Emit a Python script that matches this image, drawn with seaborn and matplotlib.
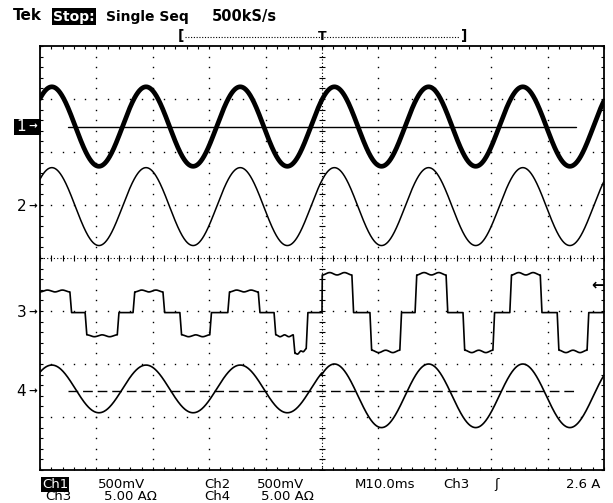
import numpy as np
import pandas as pd
import matplotlib
matplotlib.use('Agg')
import matplotlib.pyplot as plt
import seaborn as sns
from matplotlib import transforms
from matplotlib.lines import Line2D

channels = ['1', '2', '3', '4']
ground_div = [2.48, 0.97, -1.03, -2.51]       # channel ground markers (divisions)
period_ms = 16.7                              # 60 Hz
peak_ms = 2.1                                 # first crest of the sine channels
trigger_ms = 50.0
ch1_amp = [0.75, 0.75]                        # before / after trigger (div)
ch2_amp = [0.735, 0.735]
ch4_amp = [0.45, 0.60]
ch4_center_shift = [0.04, -0.09]

ch3_starts_ms = [0.0, 5.3, 8.0, 13.7, 16.5, 21.8, 24.8, 30.1, 33.3, 38.7, 41.5,
                 44.9, 47.2, 50.0, 55.3, 58.5, 63.8, 66.5, 72.0, 75.0, 80.3,
                 83.3, 88.7, 91.7, 97.0]
ch3_levels_div = [0.39, 0, -0.42, 0, 0.39, 0, -0.42, 0, 0.39, 0, -0.42,
                  -0.77, 0, 0.71, 0, -0.71, 0, 0.71, 0, -0.71, 0,
                  0.71, 0, -0.71, 0]
ch3_end_adjust = [0, 0, 0, 0, 0, 0, 0, 0, 0, 0, 0,
                  0.09, 0, 0, 0, 0, 0, 0, 0, 0, 0,
                  0, 0, 0, 0]
ch3_ripple_div = [0.035, 0.045]
trig_level_div = -0.51
ref_line_ms = [5.0, 95.0]

top_texts = ['Tek', 'Stop:', 'Single Seq', '500kS/s']
bottom_row1 = ['Ch1', '500mV', 'Ch2', '500mV', 'M10.0ms', 'Ch3', 'ʃ', '2.6 A']
bottom_row2 = ['Ch3', '5.00 AΩ', 'Ch4', '5.00 AΩ']

# ---------------- build traces ----------------
t = np.linspace(0, 100, 3001)
after = t >= trigger_ms
phase = np.cos(2 * np.pi * (t - peak_ms) / period_ms)
ch1 = ground_div[0] + np.where(after, ch1_amp[1], ch1_amp[0]) * phase
ch2 = ground_div[1] + np.where(after, ch2_amp[1], ch2_amp[0]) * phase
ch4 = (ground_div[3] + np.where(after, ch4_center_shift[1], ch4_center_shift[0])
       + np.where(after, ch4_amp[1], ch4_amp[0]) * phase)

ends = ch3_starts_ms[1:] + [100.0]
t3, v3 = [], []
for i, (s, e, L, adj) in enumerate(zip(ch3_starts_ms, ends, ch3_levels_div, ch3_end_adjust)):
    edge = 0.0 if i == 0 else (0.05 if abs(s - trigger_ms) < 1e-6 else 0.3)
    s0 = s + edge
    u = np.linspace(0, 1, 60)
    r = ch3_ripple_div[1] if s >= trigger_ms else ch3_ripple_div[0]
    bump = np.sign(L) * r * (0.5 - 0.5 * np.cos(4 * np.pi * u))
    t3.append(s0 + u * (e - s0))
    v3.append(ground_div[2] + L + adj * u + bump)
t3 = np.concatenate(t3)
v3 = np.concatenate(v3)

df1 = pd.DataFrame({'t': t, 'v': ch1})
df2 = pd.DataFrame({'t': t, 'v': ch2})
df3 = pd.DataFrame({'t': t3, 'v': v3})
df4 = pd.DataFrame({'t': t, 'v': ch4})

# ---------------- figure ----------------
sns.set_theme(style='white')
plt.rcParams['font.family'] = ['DejaVu Sans']
plt.rcParams['text.color'] = 'black'

W, H = 613, 503
fig = plt.figure(figsize=(W / 100, H / 100), dpi=100)
fig.patch.set_facecolor('white')
ax = fig.add_axes([40 / W, 1 - 470 / H, 564 / W, 424 / H])
ax.set_facecolor('white')
ax.set_xlim(0, 100)
ax.set_ylim(-4, 4)

# graticule
ax.set_xticks(np.arange(0, 100.01, 2))
ax.set_yticks(np.arange(-4, 4.01, 0.2))
ax.tick_params(direction='in', length=2.5, width=0.8, top=True, right=True,
               bottom=True, left=True, labelbottom=False, labelleft=False,
               color='black')
for sp in ax.spines.values():
    sp.set_color('black')
    sp.set_linewidth(1.3)

dot_kw = dict(ls='none', marker='s', ms=1.0, mew=0, color='black')
yd = np.arange(-4, 4.01, 0.2)
for xg in range(10, 100, 10):
    if xg != 50:
        ax.plot(np.full_like(yd, xg), yd, **dot_kw)
xd = np.arange(0, 100.01, 2)
for yg in [-3, -2, -1, 1, 2, 3]:
    ax.plot(xd, np.full_like(xd, yg), **dot_kw)
# centre crosshair
ax.axhline(0, color='black', lw=0.8, ls=(0, (1, 2)))
ax.axvline(50, color='black', lw=0.8, ls=(0, (1, 2)))
ax.plot(xd, np.zeros_like(xd), ls='none', marker='|', ms=5, mew=0.8, color='black')
ax.plot(np.full_like(yd, 50), yd, ls='none', marker='_', ms=5, mew=0.8, color='black')

# reference lines
ax.plot(ref_line_ms, [ground_div[0]] * 2, color='black', lw=1.0)
ax.plot(ref_line_ms, [ground_div[3]] * 2, color='black', lw=1.0, ls=(0, (7, 3.5)))

# traces
sns.lineplot(data=df1, x='t', y='v', ax=ax, color='black', linewidth=3.4,
             estimator=None, sort=False)
sns.lineplot(data=df2, x='t', y='v', ax=ax, color='black', linewidth=1.1,
             estimator=None, sort=False)
sns.lineplot(data=df3, x='t', y='v', ax=ax, color='black', linewidth=1.2,
             estimator=None, sort=False)
sns.lineplot(data=df4, x='t', y='v', ax=ax, color='black', linewidth=1.2,
             estimator=None, sort=False)
ax.set_xlabel('')
ax.set_ylabel('')
ax.set_xlim(0, 100)
ax.set_ylim(-4, 4)

# channel markers on the left
bt = transforms.blended_transform_factory(fig.transFigure, ax.transData)
for i, (name, g) in enumerate(zip(channels, ground_div)):
    if i == 0:
        ax.text(15 / W, g, '      ', transform=bt, fontsize=9, va='center', ha='left',
                bbox=dict(boxstyle='square,pad=0.12', fc='black', ec='none'),
                clip_on=False)
        col = 'white'
    else:
        col = 'black'
    ax.text(16.5 / W, g, name, transform=bt, fontsize=11, va='center', ha='left',
            color=col, clip_on=False)
    ax.text(28.5 / W, g, '→', transform=bt, fontsize=7.5, va='center', ha='left',
            color=col, clip_on=False, fontweight='bold')
# trigger level arrow on the right
ax.text(604 / W, trig_level_div, '←', transform=bt, fontsize=11, va='center',
        ha='right', color='black', fontweight='bold', clip_on=False)


def fx(px):
    return px / W


def fy(py):
    return 1 - py / H


# top status line
fig.text(fx(12.7), fy(20.5), top_texts[0], fontsize=11, fontweight='bold', va='baseline')
fig.text(fx(53), fy(20.5), top_texts[1], fontsize=10, fontweight='bold', va='baseline',
         color='white', bbox=dict(boxstyle='square,pad=0.08', fc='black', ec='none'))
fig.text(fx(106), fy(20.5), top_texts[2], fontsize=10, fontweight='bold', va='baseline')
fig.text(fx(212), fy(20.5), top_texts[3], fontsize=10.5, fontweight='bold', va='baseline')

# record bracket with trigger position
fig.text(fx(178), fy(36.5), '[', fontsize=10, fontweight='bold', va='center', ha='left')
fig.text(fx(467), fy(36.5), ']', fontsize=10, fontweight='bold', va='center', ha='right')
fig.add_artist(Line2D([fx(185), fx(460)], [fy(36.5), fy(36.5)], color='black',
                      lw=0.8, ls=(0, (1, 1.5))))
fig.text(fx(322), fy(36.5), 'T', fontsize=9, fontweight='bold', va='center', ha='center')

# bottom readout
r1 = 488
r2 = 499.5
fs = 9.5
fig.text(fx(42), fy(r1), bottom_row1[0], fontsize=fs, va='baseline', color='white',
         bbox=dict(boxstyle='square,pad=0.08', fc='black', ec='none'))
fig.text(fx(98), fy(r1), bottom_row1[1], fontsize=fs, va='baseline')
fig.text(fx(204), fy(r1), bottom_row1[2], fontsize=fs, va='baseline')
fig.text(fx(257), fy(r1), bottom_row1[3], fontsize=fs, va='baseline')
fig.text(fx(355), fy(r1), bottom_row1[4], fontsize=fs, va='baseline')
fig.text(fx(443), fy(r1), bottom_row1[5], fontsize=fs, va='baseline')
fig.text(fx(494), fy(r1), bottom_row1[6], fontsize=fs, va='baseline')
fig.text(fx(600), fy(r1), bottom_row1[7], fontsize=fs, va='baseline', ha='right')
fig.text(fx(45), fy(r2), bottom_row2[0], fontsize=fs, va='baseline')
fig.text(fx(104), fy(r2), bottom_row2[1], fontsize=fs, va='baseline')
fig.text(fx(204), fy(r2), bottom_row2[2], fontsize=fs, va='baseline')
fig.text(fx(261), fy(r2), bottom_row2[3], fontsize=fs, va='baseline')

fig.savefig('out.png', dpi=100, facecolor='white')
